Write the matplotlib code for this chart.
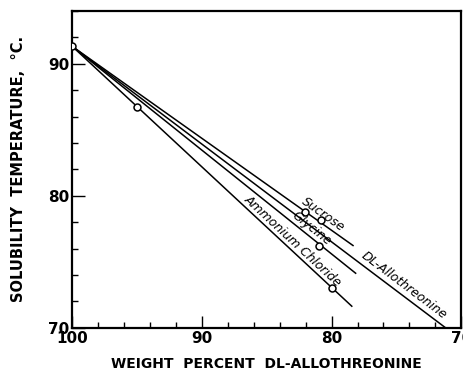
import numpy as np
import matplotlib
matplotlib.use("Agg")
import matplotlib.pyplot as plt
from matplotlib.ticker import MultipleLocator

# lines: all start at 100 % and end where they were drawn
line_names = ["Sucrose", "DL-Allothreonine", "Glycine", "Ammonium Chloride"]
start_pct = [100, 100, 100, 100]
start_temp = [91.3, 91.3, 91.3, 91.3]
end_pct = [78.3, 71.2, 78.1, 78.4]
end_temp = [76.2, 70.0, 74.1, 71.6]

# measured points
point_pct = [100.0, 95.0, 82.05, 80.8, 80.95, 79.95]
point_temp = [91.35, 86.7, 78.8, 78.2, 76.2, 73.05]

# where along each line its name is written (percent)
label_pct = [81.0, 74.8, 81.9, 83.4]
label_off = [6.0, 6.5, 5.0, 5.5]  # points, perpendicular to the line

fig = plt.figure(figsize=(4.64, 3.73), dpi=100)
ax = fig.add_axes([0.156, 0.121, 0.838, 0.85])

for i in range(len(line_names)):
    ax.plot([start_pct[i], end_pct[i]], [start_temp[i], end_temp[i]],
            color="black", lw=1.1, solid_capstyle="butt")

ax.plot(point_pct, point_temp, "o", ms=5, mfc="white", mec="black", mew=1.1, zorder=3)

ax.set_xlim(100, 70)
ax.set_ylim(70, 94)
ax.xaxis.set_major_locator(MultipleLocator(10))
ax.xaxis.set_minor_locator(MultipleLocator(2))
ax.yaxis.set_major_locator(MultipleLocator(10))
ax.yaxis.set_minor_locator(MultipleLocator(2))
ax.tick_params(which="both", direction="in", top=False, right=False, width=1.0)
ax.tick_params(which="major", length=9, labelsize=11, pad=2)
ax.tick_params(which="minor", length=4)
for lab in ax.get_xticklabels() + ax.get_yticklabels():
    lab.set_fontweight("bold")
for s in ax.spines.values():
    s.set_linewidth(1.6)

ax.set_xlabel("WEIGHT  PERCENT  DL-ALLOTHREONINE", fontsize=10,
              fontweight="bold", labelpad=8)
ax.set_ylabel("SOLUBILITY  TEMPERATURE,  \u00b0C.", fontsize=10.5,
              fontweight="bold", labelpad=16)

for i in range(len(line_names)):
    p0 = ax.transData.transform((start_pct[i], start_temp[i]))
    p1 = ax.transData.transform((end_pct[i], end_temp[i]))
    a = np.arctan2(p1[1] - p0[1], p1[0] - p0[0])
    frac = (label_pct[i] - start_pct[i]) / (end_pct[i] - start_pct[i])
    y_on = start_temp[i] + frac * (end_temp[i] - start_temp[i])
    dx = -np.sin(a) * label_off[i]
    dy = np.cos(a) * label_off[i]
    ax.annotate(line_names[i], xy=(label_pct[i], y_on), xytext=(dx, dy),
                textcoords="offset points", rotation=np.degrees(a),
                rotation_mode="anchor", ha="center", va="center",
                fontsize=9, style="italic")

fig.savefig("out.png", dpi=100)
